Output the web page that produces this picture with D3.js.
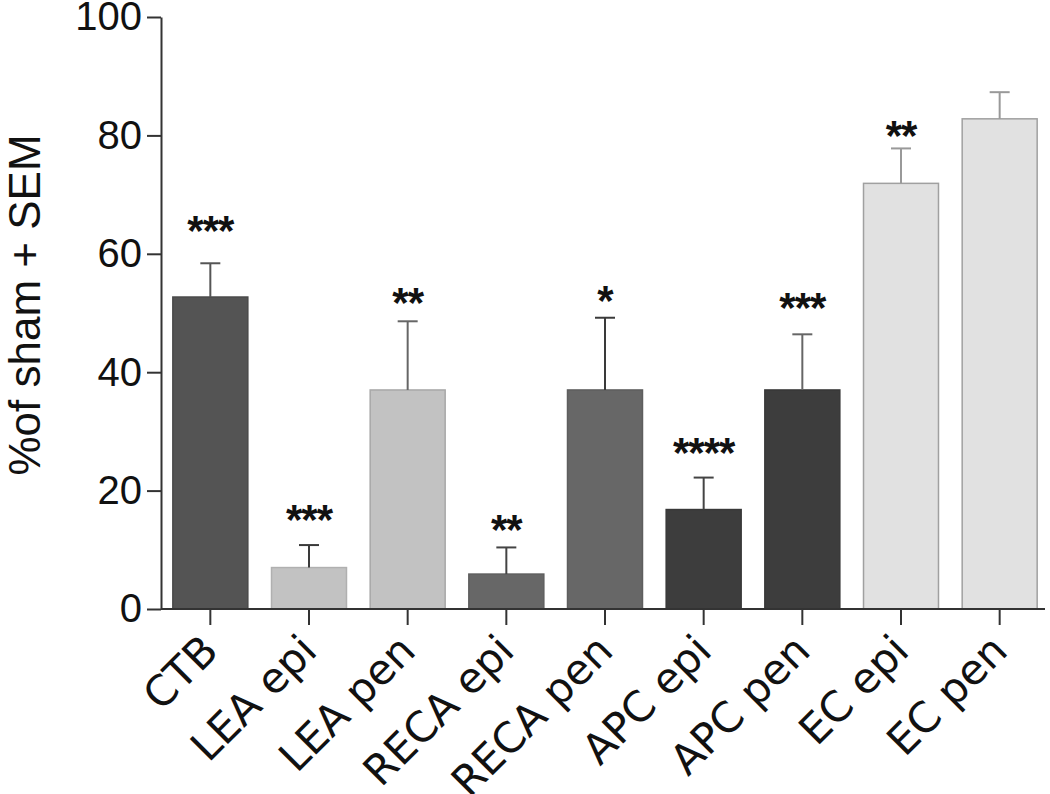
<!DOCTYPE html>
<html>
<head>
<meta charset="utf-8">
<script src="https://cdn.jsdelivr.net/npm/d3@7"></script>
<style>
  body { margin: 0; background: #fff; }
  svg { display: block; }
  text { font-family: "Liberation Sans", Arial, sans-serif; fill: #111; }
</style>
</head>
<body>
<div class="chart"></div>
<script>
// data
var categories = ["CTB", "LEA epi", "LEA pen", "RECA epi", "RECA pen", "APC epi", "APC pen", "EC epi", "EC pen"];
var means = [52.7, 7.0, 37.0, 5.9, 37.0, 16.8, 37.0, 71.9, 82.8];
var sems = [5.7, 3.8, 11.6, 4.5, 12.2, 5.4, 9.4, 5.9, 4.5];
var stars = ["***", "***", "**", "**", "*", "****", "***", "**", ""];
// height (in % units) where each significance mark sits
var starLevels = [66.0, 17.2, 53.8, 15.5, 54.2, 28.6, 53.0, 82.0, 0];
var yTicks = [0, 20, 40, 60, 80, 100];

// styles
var fills = ["#545454", "#c2c2c2", "#c2c2c2", "#676767", "#676767", "#3d3d3d", "#3d3d3d", "#e1e1e1", "#e1e1e1"];
var edges = ["#4a4a4a", "#b0b0b0", "#a8a8a8", "#5e5e5e", "#5e5e5e", "#383838", "#383838", "#a0a0a0", "#a0a0a0"];
var errColors = ["#555", "#3a3a3a", "#666", "#444", "#3a3a3a", "#444", "#666", "#999", "#999"];

var width = 1050, height = 794;
var plotLeft = 161, plotRight = 1049, plotTop = 17, plotBottom = 609;

var svg = d3.select(".chart").append("svg")
  .attr("width", width)
  .attr("height", height);

svg.append("rect")
  .attr("width", width)
  .attr("height", height)
  .attr("fill", "#fff");

var x = d3.scaleBand()
  .domain(categories)
  .range([plotLeft, plotRight])
  .paddingInner(0.24)
  .paddingOuter(0.12);

var y = d3.scaleLinear()
  .domain([0, 100])
  .range([plotBottom, plotTop]);

var rows = categories.map(function(c, i){
  return { name: c, mean: means[i], sem: sems[i], star: stars[i], level: starLevels[i], i: i };
});

// bars
svg.selectAll("rect.bar").data(rows).enter().append("rect")
  .attr("class", "bar")
  .attr("x", function(d){ return x(d.name); })
  .attr("y", function(d){ return y(d.mean); })
  .attr("width", x.bandwidth())
  .attr("height", function(d){ return y(0) - y(d.mean); })
  .attr("fill", function(d){ return fills[d.i]; })
  .attr("stroke", function(d){ return edges[d.i]; })
  .attr("stroke-width", 1.5);

// error bars (upper only)
var err = svg.selectAll("g.err").data(rows).enter().append("g")
  .attr("class", "err")
  .attr("stroke", function(d){ return errColors[d.i]; })
  .attr("stroke-width", 2);

err.append("line")
  .attr("x1", function(d){ return x(d.name) + x.bandwidth() / 2; })
  .attr("x2", function(d){ return x(d.name) + x.bandwidth() / 2; })
  .attr("y1", function(d){ return y(d.mean); })
  .attr("y2", function(d){ return y(d.mean + d.sem); });

err.append("line")
  .attr("x1", function(d){ return x(d.name) + x.bandwidth() / 2 - 10; })
  .attr("x2", function(d){ return x(d.name) + x.bandwidth() / 2 + 10; })
  .attr("y1", function(d){ return y(d.mean + d.sem); })
  .attr("y2", function(d){ return y(d.mean + d.sem); });

// significance marks
svg.selectAll("text.star").data(rows.filter(function(d){ return d.star; })).enter().append("text")
  .attr("class", "star")
  .attr("x", function(d){ return x(d.name) + x.bandwidth() / 2; })
  .attr("y", function(d){ return y(d.level); })
  .attr("dy", "0.64em")
  .attr("text-anchor", "middle")
  .style("font-size", "42px")
  .style("font-weight", "bold")
  .style("letter-spacing", "-1px")
  .text(function(d){ return d.star; });

// y axis
var yAxis = d3.axisLeft(y)
  .tickValues(yTicks)
  .tickSize(14)
  .tickPadding(5)
  .tickSizeOuter(0);

var yg = svg.append("g")
  .attr("transform", "translate(" + plotLeft + ",0)")
  .call(yAxis);
yg.select(".domain").attr("stroke", "#333").attr("stroke-width", 2);
yg.selectAll(".tick line").attr("stroke", "#333").attr("stroke-width", 2);
yg.selectAll(".tick text")
  .style("font-size", "40px")
  .style("font-family", "'Liberation Sans', Arial, sans-serif")
  .attr("fill", "#111");

// x axis
var xAxis = d3.axisBottom(x)
  .tickSize(16)
  .tickSizeOuter(0);

var xg = svg.append("g")
  .attr("transform", "translate(0," + plotBottom + ")")
  .call(xAxis);
xg.select(".domain").attr("stroke", "#333").attr("stroke-width", 2).attr("d", "M" + plotLeft + ",0H1045");
xg.selectAll(".tick line").attr("stroke", "#333").attr("stroke-width", 2);
xg.selectAll(".tick text")
  .style("font-size", "42px")
  .style("font-family", "'DejaVu Sans', sans-serif")
  .attr("fill", "#111")
  .attr("text-anchor", "end")
  .attr("dy", 0)
  .attr("y", 0)
  .attr("transform", "translate(10,44) rotate(-45)");

// y title
svg.append("text")
  .attr("transform", "translate(40,305) rotate(-90)")
  .attr("text-anchor", "middle")
  .style("font-size", "44px")
  .text("%of sham + SEM");
</script>
</body>
</html>
